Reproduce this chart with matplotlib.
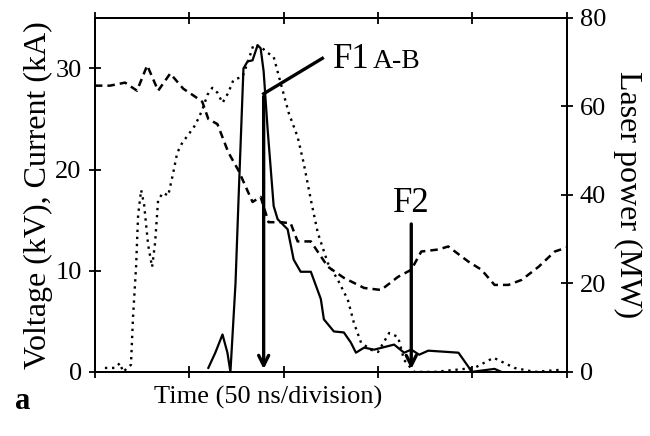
import matplotlib
matplotlib.use('Agg')
import matplotlib.pyplot as plt

plt.rcParams['font.family'] = ['Liberation Serif', 'DejaVu Serif']

# voltage (kV), dashed
t_volt = [0, 8.0, 16.0, 22.3, 27.7, 33.5, 39.9, 46.8, 53.2, 56.9, 60.1, 64.9, 70.7, 76.1,
          83.5, 87.8, 92.0, 98.4, 103.7, 107.4, 114.4, 123.4, 131.9, 142.6, 151.6, 160.6,
          167.6, 172.9, 181.9, 187.2, 197.9, 204.8, 211.7, 219.1, 226.1, 235.1, 243.6, 250]
volt = [28.3, 28.3, 28.6, 27.8, 30.3, 27.8, 29.5, 28.0, 27.2, 26.7, 25.0, 24.5, 21.7, 19.9,
        16.8, 17.3, 14.8, 14.8, 14.7, 12.9, 12.9, 10.4, 9.3, 8.3, 8.1, 9.4,
        10.1, 11.9, 12.1, 12.4, 10.9, 10.1, 8.6, 8.6, 9.1, 10.4, 11.9, 12.3]

# current (kA), solid
t_curr = [60.1, 63.8, 67.6, 70.2, 71.8, 74.5, 76.1, 78.7, 80.9, 83.5, 86.2, 87.8, 89.4, 91.5,
          94.7, 96.8, 102.1, 105.3, 109.0, 114.4, 119.7, 121.3, 126.6, 131.9, 135.6, 138.3,
          142.6, 147.9, 158.5, 163.8, 167.6, 171.8, 176.6, 192.6, 197.9, 199.5, 211.7, 215.4]
curr = [0.4, 1.9, 3.7, 1.9, 0, 8.8, 17.1, 30.0, 30.7, 30.8, 32.3, 32.0, 29.7, 24.0,
        16.4, 15.1, 14.1, 11.1, 9.9, 9.9, 7.2, 5.2, 4.0, 3.9, 2.9, 1.9,
        2.4, 2.2, 2.7, 1.9, 2.2, 1.7, 2.1, 1.9, 0.5, 0, 0.3, 0]

# laser power (MW), dotted, right axis
t_laser = [5.3, 10.6, 13.3, 14.9, 19.1, 20.2, 21.8, 22.9, 24.5, 26.1, 28.2, 30.3, 31.9, 33.5,
           36.2, 38.8, 41.5, 43.6, 46.3, 49.5, 53.2, 56.9, 59.6, 62.2, 64.9, 67.6, 70.7,
           73.4, 78.2, 81.4, 84.0, 87.8, 91.5, 94.7, 98.4, 102.7, 107.4, 110.6, 114.4,
           118.1, 123.4, 128.7, 134.0, 137.2, 141.0, 146.3, 150.0, 155.9, 160.6, 163.8,
           169.1, 179.8, 201.1, 211.2, 222.3, 233.0, 247.3]
laser = [0.9, 0.9, 2.0, 0, 1.6, 12.4, 23.7, 35.5, 41.1, 37.7, 28.7, 23.7, 29.2, 38.9,
         40.5, 39.8, 45.0, 49.5, 51.8, 53.6, 55.8, 59.2, 62.6, 64.2, 63.1, 60.8, 63.1,
         66.0, 66.7, 70.5, 73.9, 73.5, 72.1, 71.2, 65.3, 58.5, 53.1, 47.2, 38.9,
         31.4, 24.6, 20.8, 16.3, 11.1, 6.6, 5.0, 4.5, 8.8, 7.9, 2.7,
         0, 0, 0.9, 3.2, 0.9, 0, 0.5]

fig = plt.figure(figsize=(6.5, 4.36), dpi=100)
ax = fig.add_axes([0.146, 0.147, 0.726, 0.812])
ax2 = ax.twinx()

ax.plot(t_volt, volt, color='black', linestyle=(0, (3, 2)), linewidth=1.8)
ax.plot(t_curr, curr, color='black', linestyle='-', linewidth=1.6)
ax2.plot(t_laser, laser, color='black', linestyle=(0, (1, 2)), linewidth=1.7)

ax.set_xlim(0, 250)
ax.set_ylim(0, 35)
ax2.set_ylim(0, 80)
ax.set_xticks([0, 50, 100, 150, 200, 250])
ax.set_xticklabels([])
ax.set_yticks([0, 10, 20, 30])
ax2.set_yticks([0, 20, 40, 60, 80])

ax.tick_params(axis='x', direction='inout', length=9, width=1.3, top=True)
ax.tick_params(axis='y', direction='inout', length=9, width=1.3, labelsize=19, pad=5)
ax2.tick_params(axis='y', direction='inout', length=9, width=1.3, labelsize=19, pad=5)
for a in (ax, ax2):
    for s in a.spines.values():
        s.set_linewidth(1.4)

fig.text(0.412, 0.089, 'Time (50 ns/division)', fontsize=19, ha='center', va='center')
ax.set_ylabel('Voltage (kV), Current (kA)', fontsize=23, labelpad=2)
ax2.set_ylabel('Laser power (MW)', fontsize=23, rotation=270, labelpad=26)

# F1 arrow with leader line
ax.annotate('', xy=(89.4, 0), xytext=(89.4, 27.5),
            arrowprops=dict(arrowstyle='->', color='black', lw=2.4, mutation_scale=18))
ax.plot([89.4, 120.5], [27.5, 31.0], color='black', linewidth=2.4)
ax.text(126, 30.0, 'F1', fontsize=25, ha='left', va='baseline')
ax.text(147, 30.0, 'A-B', fontsize=20, ha='left', va='baseline')

# F2 arrow
ax.annotate('', xy=(167.6, 0), xytext=(167.6, 14.9),
            arrowprops=dict(arrowstyle='->', color='black', lw=2.4, mutation_scale=18))
ax.text(167.6, 15.8, 'F2', fontsize=25, ha='center', va='baseline')

fig.text(0.023, 0.062, 'a', fontsize=22, fontweight='bold')

fig.savefig('out.png', dpi=100)
